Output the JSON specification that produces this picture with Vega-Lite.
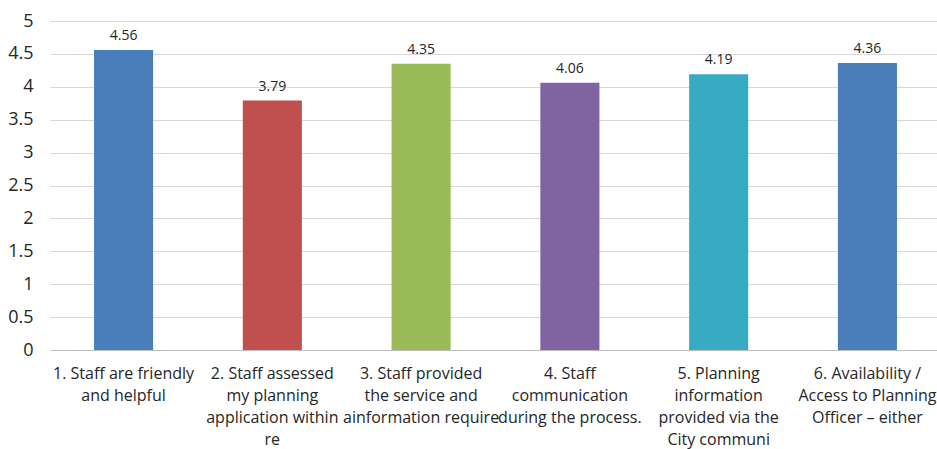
{
  "$schema": "https://vega.github.io/schema/vega-lite/v6.json",
  "width": 891,
  "height": 329,
  "autosize": {"type": "none"},
  "padding": {"left": 50, "top": 21, "right": 0, "bottom": 99},
  "background": "white",
  "config": {"view": {"stroke": null}, "font": "Open Sans"},
  "data": {
    "values": [
      {"label": "1. Staff are friendly|and helpful", "score": 4.56, "color": "#4a7ebb"},
      {"label": "2. Staff assessed|my planning|application within|re", "score": 3.79, "color": "#c0504d"},
      {"label": "3. Staff provided|the service and|ainformation require", "score": 4.35, "color": "#9bbb59"},
      {"label": "4. Staff|communication|during the process.", "score": 4.06, "color": "#8064a2"},
      {"label": "5. Planning|information|provided via the|City communi", "score": 4.19, "color": "#38abc4"},
      {"label": "6. Availability /|Access to Planning|Officer – either", "score": 4.36, "color": "#4a7ebb"}
    ]
  },
  "encoding": {
    "x": {
      "field": "label", "type": "nominal", "sort": null,
      "scale": {"paddingInner": 0.603, "paddingOuter": 0.296},
      "axis": {
        "title": null, "labelAngle": 0, "labelExpr": "split(datum.label, '|')",
        "labelFontSize": 16, "labelColor": "#262626", "labelLineHeight": 22,
        "labelPadding": 15, "ticks": false, "domainColor": "#bfbfbf", "domainWidth": 1,
        "labelLimit": 250, "labelOverlap": false
      }
    },
    "y": {
      "field": "score", "type": "quantitative",
      "scale": {"domain": [0, 5], "nice": false},
      "axis": {
        "title": null, "values": [0, 0.5, 1, 1.5, 2, 2.5, 3, 3.5, 4, 4.5, 5],
        "format": "~g", "labelFontSize": 18, "labelColor": "#262626",
        "labelPadding": 17, "ticks": false, "domain": false,
        "gridColor": "#d9d9d9", "gridWidth": 1
      }
    }
  },
  "layer": [
    {"mark": {"type": "bar"}, "encoding": {"color": {"field": "color", "type": "nominal", "scale": null}}},
    {"mark": {"type": "text", "dy": -14, "fontSize": 14, "color": "#262626"}, "encoding": {"text": {"field": "score", "type": "quantitative", "format": ".2f"}}}
  ]
}
